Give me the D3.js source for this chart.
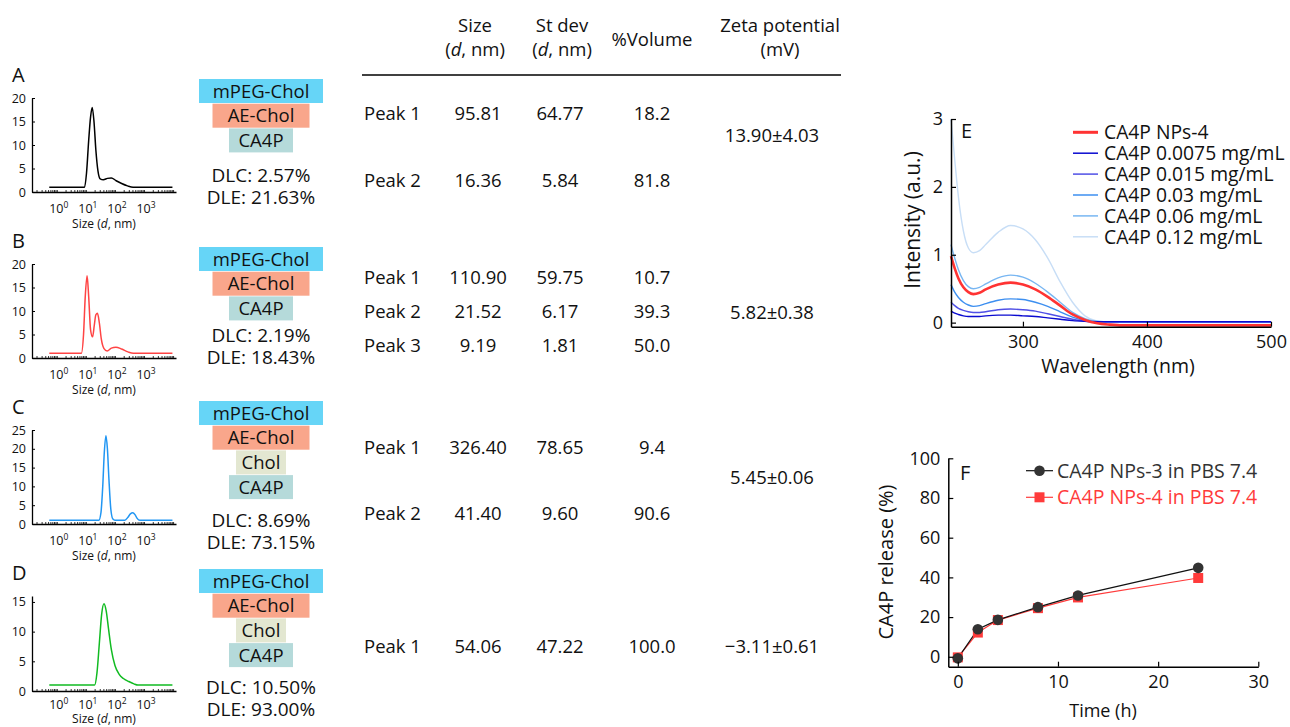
<!DOCTYPE html>
<html>
<head>
<meta charset="utf-8">
<script src="https://cdn.jsdelivr.net/npm/d3@7"></script>
<style>
  body { margin: 0; background: #fff; }
  text { font-family: "Open Sans", sans-serif; fill: #111; }
</style>
</head>
<body>
<div id="chart"></div>
<script>
// ---- DLS size distributions (size in nm, intensity)
const dlsA = [[0.55,1],[9,1],[10.5,4],[12.5,11],[14.5,16],[16.5,18],[19,15],[22,9],[26,4.5],[31,2.8],[40,2.6],[55,2.9],[75,3],[110,2.4],[170,1.8],[270,1.3],[420,1.0],[9500,1.0]];
const dlsB = [[0.55,1],[7,1],[8.3,5],[9.5,13],[11,17.5],[12.5,13],[14.5,6],[17,4.5],[19.5,7],[22,9.2],[25,9.5],[29,7.5],[34,4],[42,2],[54,1.5],[75,2.1],[108,2.3],[170,1.9],[280,1.3],[430,1.0],[9500,1]];
const dlsC = [[0.55,1],[28,1],[33,3],[38,10],[43,19],[49,23.5],[55,20],[62,12],[72,4],[85,1.3],[100,1],[220,1],[280,1.8],[340,2.7],[410,3],[490,2.5],[580,1.5],[720,1],[9500,1]];
const dlsD = [[0.55,1],[20,1],[24,3],[29,8],[35,13],[42,14.7],[50,13.5],[60,10.5],[75,7],[100,4.3],[140,2.8],[195,2.1],[300,1.6],[450,1.2],[620,1.0],[9500,1]];
const dlsYMax = [20, 20, 25, 16];
const dlsYTicks = [[0,5,10,15,20],[0,5,10,15,20],[0,5,10,15,20,25],[0,5,10,15]];
const panelLetters = ["A", "B", "C", "D"];

// ---- formulation table
const components = [
  ["mPEG-Chol", "AE-Chol", "CA4P"],
  ["mPEG-Chol", "AE-Chol", "CA4P"],
  ["mPEG-Chol", "AE-Chol", "Chol", "CA4P"],
  ["mPEG-Chol", "AE-Chol", "Chol", "CA4P"]
];
const dlcVals = ["2.57%", "2.19%", "8.69%", "10.50%"];
const dleVals = ["21.63%", "18.43%", "73.15%", "93.00%"];
const peakNames = [["Peak 1","Peak 2"],["Peak 1","Peak 2","Peak 3"],["Peak 1","Peak 2"],["Peak 1"]];
const sizeVals = [["95.81","16.36"],["110.90","21.52","9.19"],["326.40","41.40"],["54.06"]];
const stdVals = [["64.77","5.84"],["59.75","6.17","1.81"],["78.65","9.60"],["47.22"]];
const volVals = [["18.2","81.8"],["10.7","39.3","50.0"],["9.4","90.6"],["100.0"]];
const zetaVals = ["13.90±4.03", "5.82±0.38", "5.45±0.06", "\u22123.11±0.61"];

// ---- E: UV-vis spectra
const wavelengths = [242,245,248,252,256,260,265,270,280,290,300,310,320,330,340,350,360,370,380,400,450,500];
const spNPs4  = [0.98,0.80,0.65,0.52,0.45,0.42,0.44,0.49,0.56,0.59,0.56,0.49,0.38,0.25,0.12,0.04,-0.01,-0.03,-0.04,-0.04,-0.04,-0.04];
const sp0075  = [0.17,0.14,0.12,0.10,0.09,0.09,0.09,0.10,0.11,0.11,0.10,0.09,0.07,0.05,0.03,0.02,0.015,0.015,0.015,0.015,0.015,0.015];
const sp015   = [0.30,0.25,0.21,0.18,0.16,0.15,0.15,0.16,0.19,0.20,0.19,0.17,0.13,0.09,0.05,0.02,0.01,0.01,0.01,0.01,0.01,0.01];
const sp03    = [0.56,0.45,0.37,0.30,0.26,0.24,0.25,0.28,0.33,0.35,0.34,0.30,0.24,0.16,0.08,0.03,0.01,0.01,0.01,0.01,0.01,0.01];
const sp06    = [1.15,0.95,0.78,0.62,0.53,0.50,0.52,0.57,0.66,0.70,0.67,0.58,0.45,0.30,0.15,0.06,0.02,0.01,0.01,0.01,0.01,0.01];
const sp12    = [3.00,2.40,1.85,1.35,1.10,1.03,1.06,1.15,1.33,1.43,1.38,1.22,0.95,0.60,0.30,0.10,0.02,0.00,0.00,0.00,0.00,0.00];
const specNames = ["CA4P NPs-4","CA4P 0.0075 mg/mL","CA4P 0.015 mg/mL","CA4P 0.03 mg/mL","CA4P 0.06 mg/mL","CA4P 0.12 mg/mL"];

// ---- F: release
const releaseTimes = [0, 2, 4, 8, 12, 24];
const releaseNPs3 = [-0.8, 13.9, 18.6, 25.0, 30.9, 44.8];
const releaseNPs4 = [-0.3, 12.2, 18.5, 24.5, 29.9, 39.7];
const releaseNames = ["CA4P NPs-3 in PBS 7.4", "CA4P NPs-4 in PBS 7.4"];

// ---- styles / layout
const dlsColors = ["#000000", "#ff4444", "#2196f3", "#11bb22"];
const compColors = {"mPEG-Chol": "#66d5f7", "AE-Chol": "#f9a68b", "Chol": "#e3e7d1", "CA4P": "#b5dada"};
const compWidths = {"mPEG-Chol": 124, "AE-Chol": 97, "Chol": 50, "CA4P": 64};
const specColors = ["#ff3333", "#0a0ad0", "#5050e6", "#3d8ff0", "#78b6f2", "#c8def6"];
const panelTop = [98, 264, 430, 596];       // top of each DLS plot
const tickDy = [21, 21, 21, 18];
const titleDy = [36, 36, 36, 31.5];
const boxTop = [79, 247, 401, 569];
const dlcY = [175, 335, 520, 687];
const rowY = [[113,180],[277,311,345],[447,513],[646]];
const zetaY = [135, 312, 477, 646];

const W = 1290, H = 727;
const svg = d3.select('#chart').append('svg')
    .attr('width', W).attr('height', H)
    .attr('viewBox', `0 0 ${W} ${H}`);

// ================= DLS panels =================
const dlsData = [dlsA, dlsB, dlsC, dlsD];
const xDls = d3.scaleLog().domain([0.14, 12600]).range([32, 176]);
const minorTicks = [];
for (let e = -1; e <= 4; e++) {
    for (let m = 1; m <= 9; m++) {
        const v = m * Math.pow(10, e);
        if (v >= 0.14 && v <= 12600) minorTicks.push(v);
    }
}

dlsData.forEach((pts, i) => {
    const top = panelTop[i], h = 94;
    const y = d3.scaleLinear().domain([0, dlsYMax[i]]).range([top + h, top]);
    if (i === 3) y.range([top + 95, top]);
    const g = svg.append('g');

    g.append('text').attr('x', 12).attr('y', top - 16)
        .style('font-size', '20px').text(panelLetters[i]);

    const ya = g.append('g').attr('transform', `translate(32,0)`)
        .call(d3.axisLeft(y).tickValues(dlsYTicks[i]).tickSizeInner(-3).tickSizeOuter(0).tickPadding(6));
    ya.select('.domain').attr('stroke', '#000').attr('stroke-width', 1.3);
    ya.selectAll('text').style('font-size', '12.5px').style('font-family', '"Open Sans", sans-serif');

    const xa = g.append('g').attr('transform', `translate(0,${y(0)})`)
        .call(d3.axisBottom(xDls).tickValues(minorTicks).tickSizeInner(-2).tickSizeOuter(0).tickFormat(''));
    xa.select('.domain').attr('stroke', '#000').attr('stroke-width', 1.3);
    xa.selectAll('.tick line').attr('stroke-width', 0.8);

    [1, 10, 100, 1000].forEach((v, k) => {
        const t = g.append('text').attr('x', xDls(v) + 2).attr('y', y(0) + tickDy[i])
            .attr('text-anchor', 'middle').style('font-size', '12.5px');
        t.append('tspan').text('10');
        t.append('tspan').attr('dy', -5).style('font-size', '8.5px').text(String(k));
    });
    const tt = g.append('text').attr('x', 104).attr('y', y(0) + titleDy[i])
        .attr('text-anchor', 'middle').style('font-size', '12px');
    tt.append('tspan').text('Size (');
    tt.append('tspan').style('font-style', 'italic').text('d');
    tt.append('tspan').text(', nm)');

    const line = d3.line().x(d => xDls(d[0])).y(d => y(d[1])).curve(d3.curveMonotoneX);
    g.append('path').datum(pts).attr('d', line)
        .attr('fill', 'none').attr('stroke', dlsColors[i]).attr('stroke-width', 1.5);

    // formulation boxes
    components[i].forEach((c, k) => {
        const by = boxTop[i] + k * 24.7;
        g.append('rect').attr('x', 261 - compWidths[c] / 2).attr('y', by)
            .attr('width', compWidths[c]).attr('height', 24).attr('fill', compColors[c]);
        g.append('text').attr('x', 261).attr('y', by + 12).attr('dy', '0.36em')
            .attr('text-anchor', 'middle').style('font-size', '18.5px').text(c);
    });
    g.append('text').attr('x', 261).attr('y', dlcY[i]).attr('dy', '0.36em')
        .attr('text-anchor', 'middle').style('font-size', '19px').text('DLC: ' + dlcVals[i]);
    g.append('text').attr('x', 261).attr('y', dlcY[i] + 22.5).attr('dy', '0.36em')
        .attr('text-anchor', 'middle').style('font-size', '19px').text('DLE: ' + dleVals[i]);

    // table rows
    rowY[i].forEach((ry, k) => {
        const cells = [[364, 'start', peakNames[i][k]], [478, 'middle', sizeVals[i][k]],
                       [560, 'middle', stdVals[i][k]], [652, 'middle', volVals[i][k]]];
        cells.forEach(([cx, anchor, txt]) => {
            g.append('text').attr('x', cx).attr('y', ry).attr('dy', '0.36em')
                .attr('text-anchor', anchor).style('font-size', '18.5px').text(txt);
        });
    });
    g.append('text').attr('x', 772).attr('y', zetaY[i]).attr('dy', '0.36em')
        .attr('text-anchor', 'middle').style('font-size', '18.5px').text(zetaVals[i]);
});

// table header
const head = svg.append('g').style('font-size', '18.5px');
function headText(x, y, parts) {
    const t = head.append('text').attr('x', x).attr('y', y).attr('dy', '0.36em').attr('text-anchor', 'middle');
    parts.forEach(p => t.append('tspan').style('font-style', p[1] ? 'italic' : null).text(p[0]));
}
headText(475, 25, [['Size']]);
headText(475, 49, [['('], ['d', true], [', nm)']]);
headText(562, 25, [['St dev']]);
headText(562, 49, [['('], ['d', true], [', nm)']]);
headText(652, 39, [['%Volume']]);
headText(780, 25, [['Zeta potential']]);
headText(780, 49, [['(mV)']]);
svg.append('line').attr('x1', 362).attr('x2', 841).attr('y1', 75).attr('y2', 75)
    .attr('stroke', '#000').attr('stroke-width', 1.5);

// ================= E: spectra =================
function styleAxis(sel) {
    sel.select('.domain').attr('stroke', '#000').attr('stroke-width', 1.5);
    sel.selectAll('.tick line').attr('stroke', '#000').attr('stroke-width', 1.2);
    sel.selectAll('text').style('font-size', '18px').style('font-family', '"Open Sans", sans-serif').attr('fill', '#111');
}
const xE = d3.scaleLinear().domain([242, 500]).range([951, 1271]);
const yE = d3.scaleLinear().domain([-0.06, 3]).range([326.7, 119]);
const spectra = [spNPs4, sp0075, sp015, sp03, sp06, sp12];
const gE = svg.append('g');
const lineE = d3.line().x((d, k) => xE(wavelengths[k])).y(d => yE(d)).curve(d3.curveMonotoneX);
// draw lightest first, red on top
[5, 4, 3, 2, 1, 0].forEach(s => {
    gE.append('path').datum(spectra[s]).attr('d', lineE).attr('fill', 'none')
        .attr('stroke', specColors[s]).attr('stroke-width', s === 0 ? 2.6 : 1.4);
});
styleAxis(gE.append('g').attr('transform', `translate(0,${yE.range()[0]})`)
    .call(d3.axisBottom(xE).tickValues([300, 400, 500]).tickSizeInner(-5).tickSizeOuter(0).tickPadding(9)));
styleAxis(gE.append('g').attr('transform', `translate(951,0)`)
    .call(d3.axisLeft(yE).tickValues([0, 1, 2, 3]).tickFormat(d3.format('d'))
        .tickSizeInner(-5).tickSizeOuter(0).tickPadding(8)));
gE.append('text').attr('x', 1118).attr('y', 373).attr('text-anchor', 'middle')
    .style('font-size', '19.5px').text('Wavelength (nm)');
gE.append('text').attr('transform', 'translate(920,220) rotate(-90)').attr('text-anchor', 'middle')
    .style('font-size', '21px').text('Intensity (a.u.)');
gE.append('text').attr('x', 961).attr('y', 138).style('font-size', '20px').text('E');
specNames.forEach((n, k) => {
    const ly = 132.3 + k * 20.9;
    gE.append('line').attr('x1', 1073).attr('x2', 1098).attr('y1', ly).attr('y2', ly)
        .attr('stroke', specColors[k]).attr('stroke-width', k === 0 ? 3 : 1.5);
    gE.append('text').attr('x', 1104).attr('y', ly).attr('dy', '0.36em')
        .style('font-size', '19.3px').text(n);
});

// ================= F: release =================
const xF = d3.scaleLinear().domain([-0.95, 30]).range([948.3, 1258.3]);
const yF = d3.scaleLinear().domain([-5, 100]).range([666.7, 458.3]);
const gF = svg.append('g');
[releaseNPs4, releaseNPs3].forEach((vals, idx) => {
    const pts = vals.map((v, k) => [releaseTimes[k], v]);
    gF.append('path').datum(pts)
        .attr('d', d3.line().x(d => xF(d[0])).y(d => yF(d[1])))
        .attr('fill', 'none').attr('stroke', idx === 1 ? '#111' : '#ff3b3b').attr('stroke-width', 1.2);
});
gF.selectAll('rect.m4').data(releaseNPs4).join('rect').attr('class', 'm4')
    .attr('x', (d, k) => xF(releaseTimes[k]) - 5).attr('y', d => yF(d) - 5)
    .attr('width', 10).attr('height', 10).attr('fill', '#ff3b3b');
gF.selectAll('circle.m3').data(releaseNPs3).join('circle').attr('class', 'm3')
    .attr('cx', (d, k) => xF(releaseTimes[k])).attr('cy', d => yF(d))
    .attr('r', 5.3).attr('fill', '#333');
styleAxis(gF.append('g').attr('transform', `translate(0,${yF.range()[0]})`)
    .call(d3.axisBottom(xF).tickValues([0, 10, 20, 30]).tickSizeInner(-5).tickSizeOuter(0).tickPadding(9)));
styleAxis(gF.append('g').attr('transform', `translate(948.3,0)`)
    .call(d3.axisLeft(yF).tickValues([0, 20, 40, 60, 80, 100]).tickSizeInner(-5).tickSizeOuter(0).tickPadding(8)));
gF.append('text').attr('x', 1103).attr('y', 717).attr('text-anchor', 'middle')
    .style('font-size', '18px').text('Time (h)');
gF.append('text').attr('transform', 'translate(893,562) rotate(-90)').attr('text-anchor', 'middle')
    .style('font-size', '20px').text('CA4P release (%)');
gF.append('text').attr('x', 960).attr('y', 480).style('font-size', '20px').text('F');
releaseNames.forEach((n, k) => {
    const ly = 470.7 + k * 26.6;
    gF.append('line').attr('x1', 1026).attr('x2', 1053).attr('y1', ly).attr('y2', ly)
        .attr('stroke', k === 0 ? '#111' : '#ff3b3b').attr('stroke-width', 1.2);
    if (k === 0) gF.append('circle').attr('cx', 1039.5).attr('cy', ly).attr('r', 5.3).attr('fill', '#333');
    else gF.append('rect').attr('x', 1034.5).attr('y', ly - 5).attr('width', 10).attr('height', 10).attr('fill', '#ff3b3b');
    gF.append('text').attr('x', 1057).attr('y', ly).attr('dy', '0.36em')
        .style('font-size', '19.5px').style('fill', k === 0 ? '#333' : '#ff3b3b').text(n);
});
</script>
</body>
</html>
